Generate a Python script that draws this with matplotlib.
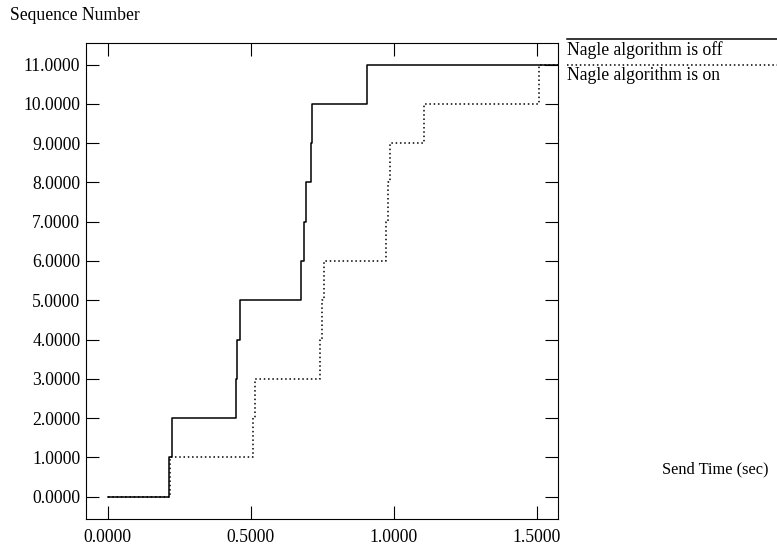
import matplotlib
matplotlib.use("Agg")
import matplotlib.pyplot as plt
from matplotlib.lines import Line2D
from matplotlib.ticker import FormatStrFormatter

plt.rcParams['font.family'] = ['Liberation Serif', 'DejaVu Serif']
plt.rcParams['font.size'] = 12.7

# send time (sec) at which each sequence number goes out
seq = [0, 1, 2, 3, 4, 5, 6, 7, 8, 9, 10, 11]
t_off = [0.0, 0.215, 0.224, 0.448, 0.453, 0.463, 0.677, 0.685, 0.693, 0.710, 0.715, 0.908]
t_on = [0.0, 0.219, 0.507, 0.515, 0.742, 0.750, 0.757, 0.972, 0.980, 0.987, 1.107, 1.510]
t_end = 1.58  # traces run on to the right edge

labels = ["Nagle algorithm is off", "Nagle algorithm is on"]
xticks = [0.0, 0.5, 1.0, 1.5]
yticks = list(range(0, 12))

fig = plt.figure(figsize=(7.77, 5.52), dpi=100)
ax = fig.add_axes([0.1107, 0.0598, 0.6078, 0.8632])

ax.step(t_off + [t_end], seq + [seq[-1]], where='post', color='black', lw=1.1)
ax.step(t_on + [t_end], seq + [seq[-1]], where='post', color='black', lw=1.1,
        linestyle=(0, (1, 1.8)))

ax.set_xlim(-0.076, 1.576)
ax.set_ylim(-0.567, 11.56)
ax.set_xticks(xticks)
ax.set_yticks(yticks)
ax.xaxis.set_major_formatter(FormatStrFormatter('%.4f'))
ax.yaxis.set_major_formatter(FormatStrFormatter('%.4f'))
ax.tick_params(direction='in', length=9.5, width=0.8, top=True, right=True)
ax.tick_params(axis='x', pad=7)
ax.tick_params(axis='y', pad=4)
for s in ax.spines.values():
    s.set_linewidth(0.8)

# axis titles in xgraph style
fig.text(10 / 777, 1 - 15 / 552, "Sequence Number", ha='left', va='center')
fig.text(768 / 777, 1 - 469 / 552, "Send Time (sec)", ha='right', va='center',
         fontsize=11.8)

# legend outside on the right, line above each label
styles = ['-', (0, (1, 1.8))]
for i, (lab, ls) in enumerate(zip(labels, styles)):
    yl = 1 - (39 + 26 * i) / 552
    fig.add_artist(Line2D([567 / 777, 1.0], [yl, yl], transform=fig.transFigure,
                          color='black', lw=1.1, linestyle=ls))
    fig.text(567 / 777, yl - 2 / 552, lab, ha='left', va='top')

fig.savefig("out.png", dpi=100)
